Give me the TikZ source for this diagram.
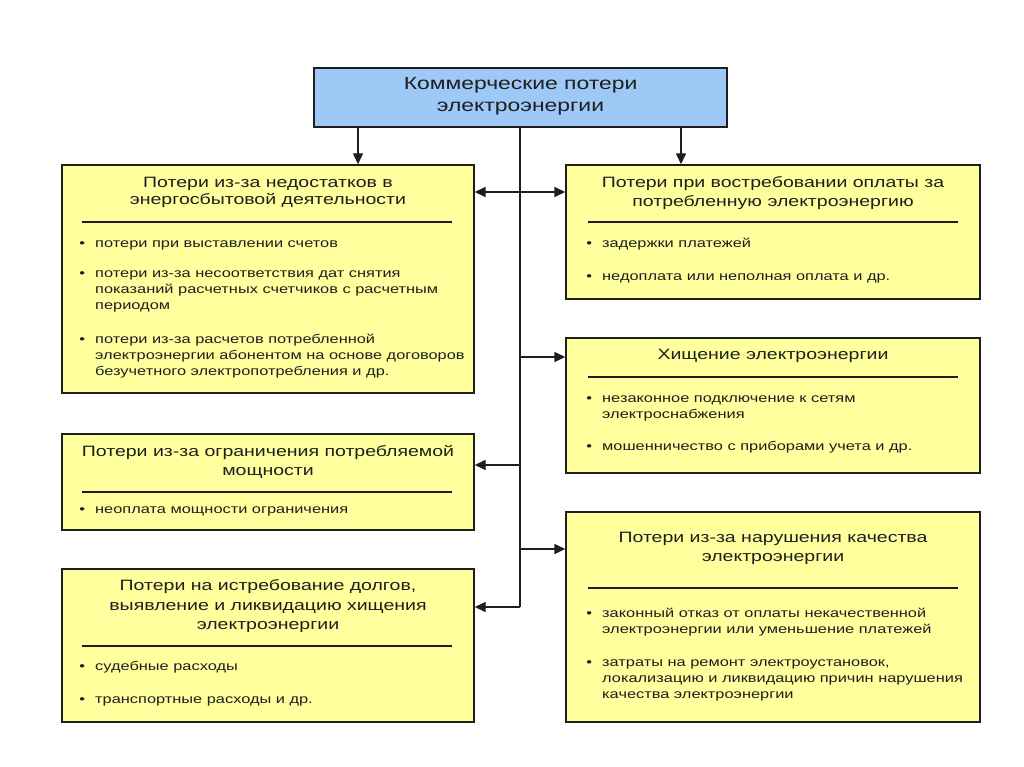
\documentclass[tikz,border=0pt]{standalone}
\usepackage{fontspec}
\setmainfont{Liberation Sans}[FakeStretch=1.3]
\usetikzlibrary{arrows.meta}
\definecolor{boxyellow}{RGB}{255,255,158}
\definecolor{boxblue}{RGB}{158,200,245}
\definecolor{ink}{RGB}{30,30,30}
\tikzset{
  box/.style={draw=ink, line width=1.4pt, rectangle, inner sep=0pt},
  ybox/.style={box, fill=boxyellow},
  head/.style={anchor=mid, align=center, inner sep=0pt, text=ink, font=\fontsize{15}{19.5}\selectfont},
  item/.style={anchor=mid west, align=left, inner sep=0pt, text=ink, font=\fontsize{12.6}{16}\selectfont},
  rule/.style={draw=ink, line width=1.1pt},
  conn/.style={draw=ink, line width=1.4pt},
  arr/.style={conn, -{Triangle[length=11pt,width=10pt]}},
}
\newcommand{\bul}{\llap{•\hspace{10pt}}}
\begin{document}
\begin{tikzpicture}[x=1pt,y=-1pt]
\useasboundingbox[fill=white] (0,0) rectangle (1024,767);
% boxes
\node[box, fill=boxblue, minimum width=413pt, minimum height=59pt] (top) at (520.5,97.5) {};
\node[ybox, minimum width=412pt, minimum height=228pt] (L1) at (268,279) {};
\node[ybox, minimum width=412pt, minimum height=96pt] (L2) at (268,482) {};
\node[ybox, minimum width=412pt, minimum height=153pt] (L3) at (268,645.5) {};
\node[ybox, minimum width=414pt, minimum height=134pt] (R1) at (773,232) {};
\node[ybox, minimum width=414pt, minimum height=135pt] (R2) at (773,405.5) {};
\node[ybox, minimum width=414pt, minimum height=210pt] (R3) at (773,617) {};
% texts (anchored at the mid of their last line)
\node[head, font=\fontsize{17.6}{22}\selectfont] (topt) at (520.5,109) {Коммерческие потери\\электроэнергии};
\node[head, font=\fontsize{15}{17}\selectfont] (L1h) at (268,202) {Потери из-за недостатков в\\энергосбытовой деятельности};
\draw[rule] (82,222) -- (452,222);
\node[item] (L1a) at (95,245) {\bul потери при выставлении счетов};
\node[item] (L1b) at (95,307) {\bul потери из-за несоответствия дат снятия\\показаний расчетных счетчиков с расчетным\\периодом};
\node[item] (L1c) at (95,373) {\bul потери из-за расчетов потребленной\\электроэнергии абонентом на основе договоров\\безучетного электропотребления и др.};
\node[head] (L2h) at (268,473) {Потери из-за ограничения потребляемой\\мощности};
\draw[rule] (82,492) -- (452,492);
\node[item] (L2a) at (95,511) {\bul неоплата мощности ограничения};
\node[head] (L3h) at (268,627) {Потери на истребование долгов,\\выявление и ликвидацию хищения\\электроэнергии};
\draw[rule] (82,646) -- (452,646);
\node[item] (L3a) at (95,668) {\bul судебные расходы};
\node[item] (L3b) at (95,701) {\bul транспортные расходы и др.};
\node[head] (R1h) at (773,204) {Потери при востребовании оплаты за\\потребленную электроэнергию};
\draw[rule] (588,222) -- (958,222);
\node[item] (R1a) at (602,245) {\bul задержки платежей};
\node[item] (R1b) at (602,278) {\bul недоплата или неполная оплата и др.};
\node[head] (R2h) at (773,357) {Хищение электроэнергии};
\draw[rule] (588,377) -- (958,377);
\node[item] (R2a) at (602,416) {\bul незаконное подключение к сетям\\электроснабжения};
\node[item] (R2b) at (602,448) {\bul мошенничество с приборами учета и др.};
\node[head] (R3h) at (773,559) {Потери из-за нарушения качества\\электроэнергии};
\draw[rule] (588,588) -- (958,588);
\node[item] (R3a) at (602,631) {\bul законный отказ от оплаты некачественной\\электроэнергии или уменьшение платежей};
\node[item] (R3b) at (602,696) {\bul затраты на ремонт электроустановок,\\локализацию и ликвидацию причин нарушения\\качества электроэнергии};
% connectors
\coordinate (t1) at (358,0);
\coordinate (t2) at (681,0);
\draw[arr] (top.south -| t1) -- (L1.north -| t1);
\draw[arr] (top.south -| t2) -- (R1.north -| t2);
\coordinate (trunk) at (520,607);
\draw[conn] (top.south -| trunk) -- (trunk);
\coordinate (j1) at (520,192);
\coordinate (j2) at (520,357);
\coordinate (j3) at (520,465);
\coordinate (j4) at (520,549);
\draw[arr] (j1) -- (L1.east |- j1);
\draw[arr] (j1) -- (R1.west |- j1);
\draw[arr] (j2) -- (R2.west |- j2);
\draw[arr] (j3) -- (L2.east |- j3);
\draw[arr] (j4) -- (R3.west |- j4);
\draw[arr] (trunk) -- (L3.east |- trunk);
\end{tikzpicture}
\end{document}
